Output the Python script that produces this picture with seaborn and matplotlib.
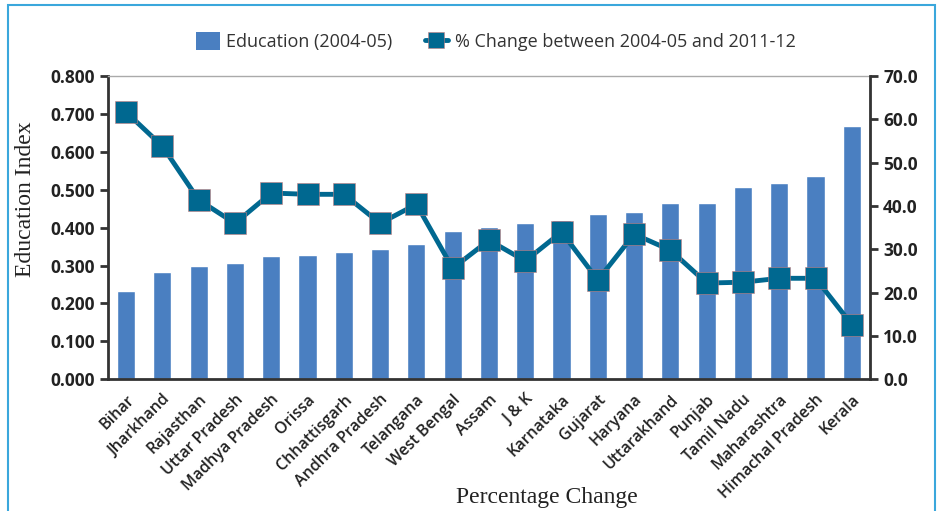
import numpy as np
import pandas as pd
import matplotlib
matplotlib.use("Agg")
import matplotlib.pyplot as plt
from matplotlib.lines import Line2D
from matplotlib.patches import Patch, Rectangle
import seaborn as sns

states = ["Bihar", "Jharkhand", "Rajasthan", "Uttar Pradesh", "Madhya Pradesh",
          "Orissa", "Chhattisgarh", "Andhra Pradesh", "Telangana", "West Bengal",
          "Assam", "J & K", "Karnataka", "Gujarat", "Haryana", "Uttarakhand",
          "Punjab", "Tamil Nadu", "Maharashtra", "Himachal Pradesh", "Kerala"]
education_2004 = [0.232, 0.284, 0.300, 0.306, 0.324, 0.327, 0.337, 0.344, 0.357,
                  0.392, 0.402, 0.413, 0.420, 0.436, 0.440, 0.466, 0.466, 0.506,
                  0.517, 0.536, 0.668]
pct_change = [61.7, 53.8, 41.4, 36.0, 43.0, 42.7, 42.7, 36.0, 40.4, 25.6, 32.1,
              27.3, 34.0, 22.9, 33.5, 29.8, 22.2, 22.4, 23.3, 23.3, 12.6]
left_ticks = [0.0, 0.1, 0.2, 0.3, 0.4, 0.5, 0.6, 0.7, 0.8]
right_ticks = [0, 10, 20, 30, 40, 50, 60, 70]

bar_color = "#4a7fc1"
line_color = "#006890"
edge_color = "#c98080"
text_color = "#222222"

sns.set_style("white")
plt.rcParams["font.family"] = ["Open Sans", "DejaVu Sans"]

df = pd.DataFrame({"state": states, "education": education_2004,
                   "change": pct_change, "pos": np.arange(len(states))})

fig = plt.figure(figsize=(9.39, 5.11), dpi=100)
ax = fig.add_axes([0.115, 0.258, 0.8115, 0.593])

sns.barplot(data=df, x="state", y="education", color=bar_color, width=0.5,
            saturation=1, ax=ax)
ax.set_xlim(-0.5, len(states) - 0.5)
ax.set_ylim(0, 0.8)
ax.set_yticks(left_ticks)
ax.set_yticklabels([f"{v:.3f}" for v in left_ticks], fontsize=12.5,
                   fontweight="bold", color=text_color)

ax.set_xticks(np.arange(len(states)))
ax.set_xticklabels(states, rotation=45, ha="right", rotation_mode="anchor",
                   fontsize=11.5, fontweight="semibold", color=text_color)
ax.tick_params(axis="x", which="major", length=0, pad=9)
ax.set_xticks(np.arange(len(states) + 1) - 0.5, minor=True)
ax.tick_params(axis="x", which="minor", length=7, width=2, color="#333333",
               direction="out")
ax.tick_params(axis="y", length=6, width=2, color="#333333", direction="out")
ax.set_xlabel("")
ax.set_ylabel("")

for side in ["left", "bottom"]:
    ax.spines[side].set_color("#333333")
    ax.spines[side].set_linewidth(2)
ax.spines["top"].set_color("#aaaaaa")
ax.spines["top"].set_linewidth(1)

ax2 = ax.twinx()
sns.lineplot(data=df, x="pos", y="change", color=line_color, linewidth=3.5,
             marker="s", markersize=16, markerfacecolor=line_color,
             markeredgecolor=edge_color, markeredgewidth=0.4, ax=ax2)
ax2.set_ylim(0, 70)
ax2.set_yticks(right_ticks)
ax2.set_yticklabels([f"{v:.1f}" for v in right_ticks], fontsize=12.5,
                    fontweight="bold", color=text_color)
ax2.tick_params(axis="y", length=6, width=2, color="#333333", direction="out")
ax2.set_ylabel("")
ax2.set_xlabel("")
ax2.spines["right"].set_color("#333333")
ax2.spines["right"].set_linewidth(2)
for side in ["left", "bottom", "top"]:
    ax2.spines[side].set_visible(False)
ax.set_xlim(-0.5, len(states) - 0.5)
ax2.set_xlim(-0.5, len(states) - 0.5)

fig.text(0.027, 0.61, "Education Index", rotation=90, ha="center", va="center",
         fontsize=17, family=["Liberation Serif", "DejaVu Serif"], color=text_color)
fig.text(0.582, 0.027, "Percentage Change", ha="center", va="center",
         fontsize=17, family=["Liberation Serif", "DejaVu Serif"], color=text_color)

handles = [Patch(facecolor=bar_color, edgecolor="none"),
           Line2D([0], [0], color=line_color, linewidth=3.5, marker="s",
                  markersize=12, markerfacecolor=line_color,
                  markeredgecolor=edge_color, markeredgewidth=0.4)]
fig.legend(handles, ["Education (2004-05)", "% Change between 2004-05 and 2011-12"],
           loc="center", bbox_to_anchor=(0.528, 0.918), ncol=2, frameon=False,
           fontsize=13, handlelength=1.3, handleheight=1.1, columnspacing=1.8,
           handletextpad=0.35, labelcolor="#333333")

# light blue frame around the figure
fig.patches.append(Rectangle((0.009, -0.05), 0.987, 1.04, transform=fig.transFigure,
                             fill=False, edgecolor="#3aa7dc", linewidth=1.5))

fig.savefig("out.png", dpi=100)
